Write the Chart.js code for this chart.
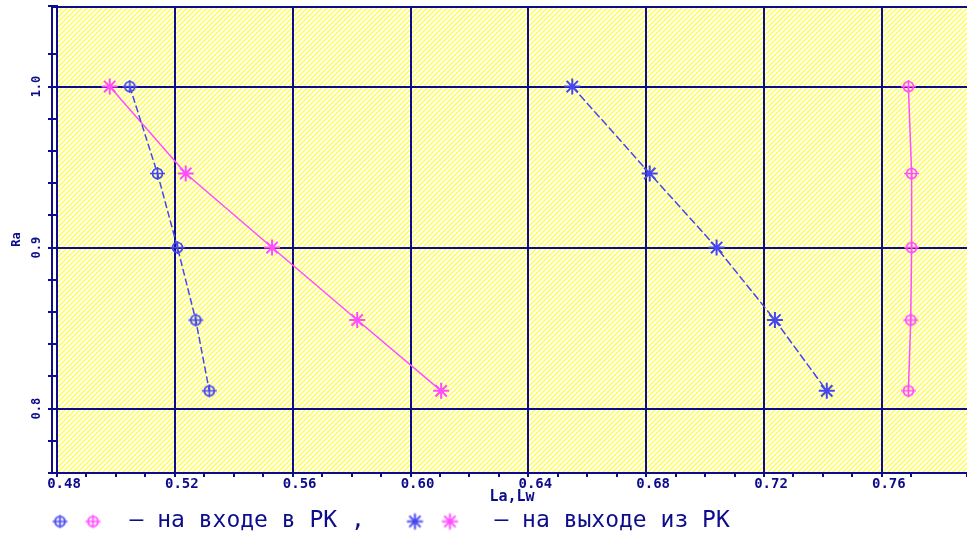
<!DOCTYPE html>
<html>
<head>
<meta charset="utf-8">
<script src="https://cdn.jsdelivr.net/npm/chart.js@4"></script>
<style>
  html, body { margin: 0; padding: 0; background: #fff; }
  #wrap { width: 967px; height: 540px; }
</style>
</head>
<body>
<div id="wrap"><canvas id="myChart"></canvas></div>
<script>
// Ra on the vertical axis, same rows for every series
const raValues = [1.0, 0.946, 0.9, 0.855, 0.811];
// La / Lw on the horizontal axis
const inletBlue = [0.5047, 0.5141, 0.5209, 0.5271, 0.5317];
const inletPink = [0.7690, 0.7701, 0.7701, 0.7698, 0.7690];
const outletBlue = [0.6549, 0.6812, 0.7039, 0.7237, 0.7413];
const outletPink = [0.4979, 0.5237, 0.5530, 0.5819, 0.6104];

const xMajor = [0.48, 0.52, 0.56, 0.60, 0.64, 0.68, 0.72, 0.76];
const yMajor = [0.8, 0.9, 1.0];
const legendTexts = ['– на входе в РК ,', '– на выходе из РК'];

const navy = '#0c0c8c';
const blue = '#4646f0';
const pink = '#ff4cff';
const mono = "'DejaVu Sans Mono', monospace";

function pairs(xs) {
  return xs.map((x, i) => ({x: x, y: raValues[i]}));
}
function isMajor(v, list) {
  return list.some(m => Math.abs(v - m) < 1e-6);
}

function crossCircle(color) {
  const c = document.createElement('canvas');
  c.width = 17; c.height = 15;
  const g = c.getContext('2d');
  g.strokeStyle = color;
  g.lineWidth = 1.7;
  g.beginPath(); g.arc(8.5, 7.5, 5, 0, 2 * Math.PI); g.stroke();
  g.beginPath();
  g.moveTo(1, 7.5); g.lineTo(16, 7.5);
  g.moveTo(8.5, 1); g.lineTo(8.5, 14);
  g.stroke();
  return c;
}
function starMark(color) {
  const c = document.createElement('canvas');
  c.width = 19; c.height = 19;
  const g = c.getContext('2d');
  g.strokeStyle = color;
  g.lineWidth = 2;
  g.beginPath();
  for (let k = 0; k < 4; k++) {
    const a = k * Math.PI / 4;
    g.moveTo(9.5 - 8 * Math.cos(a), 9.5 - 8 * Math.sin(a));
    g.lineTo(9.5 + 8 * Math.cos(a), 9.5 + 8 * Math.sin(a));
  }
  g.stroke();
  return c;
}
function twoMarks(a, b, width, pa, pb) {
  const c = document.createElement('canvas');
  c.width = width; c.height = 20;
  const g = c.getContext('2d');
  g.drawImage(a, pa - a.width / 2, 10 - a.height / 2);
  g.drawImage(b, pb - b.width / 2, 10 - b.height / 2);
  return c;
}

const inBlueMark = crossCircle(blue);
const inPinkMark = crossCircle(pink);
const legendIn = twoMarks(inBlueMark, inPinkMark, 114, 56, 89);
const legendOut = twoMarks(starMark(blue), starMark(pink), 114, 46, 81);

const hatch = document.createElement('canvas');
hatch.width = 5; hatch.height = 5;
(function () {
  const g = hatch.getContext('2d');
  g.strokeStyle = '#ffff48';
  g.lineWidth = 1.4;
  g.beginPath();
  g.moveTo(-1, 6); g.lineTo(6, -1);
  g.moveTo(-1, 1); g.lineTo(1, -1);
  g.moveTo(4, 6); g.lineTo(6, 4);
  g.stroke();
})();

const paper = {
  id: 'paper',
  beforeDraw(chart) {
    const {ctx, chartArea: a} = chart;
    ctx.save();
    ctx.fillStyle = '#ffffff';
    ctx.fillRect(a.left, a.top, a.right - a.left, a.bottom - a.top);
    ctx.fillStyle = ctx.createPattern(hatch, 'repeat');
    ctx.fillRect(a.left, a.top, a.right - a.left, a.bottom - a.top);
    ctx.restore();
  },
  beforeDatasetsDraw(chart) {
    const {ctx, chartArea: a} = chart;
    ctx.save();
    ctx.strokeStyle = navy;
    ctx.lineWidth = 2;
    ctx.beginPath();
    ctx.moveTo(a.left - 5, a.top + 1); ctx.lineTo(a.right, a.top + 1);
    ctx.moveTo(a.left - 5, a.top); ctx.lineTo(a.left - 5, a.bottom);
    ctx.stroke();
    ctx.restore();
  }
};

const data = {
  datasets: [
    {
      label: 'inlet blue',
      data: pairs(inletBlue),
      showLine: true,
      borderColor: blue,
      borderWidth: 1.5,
      borderDash: [7, 3],
      pointStyle: inBlueMark,
      pointRadius: 7
    },
    {
      label: 'inlet pink',
      data: pairs(inletPink),
      showLine: true,
      borderColor: pink,
      borderWidth: 1.5,
      pointStyle: inPinkMark,
      pointRadius: 7
    },
    {
      label: 'outlet blue',
      data: pairs(outletBlue),
      showLine: true,
      borderColor: blue,
      borderWidth: 1.5,
      borderDash: [8, 3],
      pointStyle: 'star',
      pointRadius: 8,
      pointBorderWidth: 2,
      pointBorderColor: blue
    },
    {
      label: 'outlet pink',
      data: pairs(outletPink),
      showLine: true,
      borderColor: pink,
      borderWidth: 1.5,
      pointStyle: 'star',
      pointRadius: 8,
      pointBorderWidth: 2,
      pointBorderColor: pink
    }
  ]
};

const config = {
  type: 'scatter',
  data: data,
  options: {
    responsive: true,
    maintainAspectRatio: false,
    animation: false,
    layout: { autoPadding: false, padding: { top: 6, right: 0, left: 0, bottom: -3 } },
    scales: {
      x: {
        type: 'linear',
        min: 0.48,
        max: 0.7889,
        afterFit(scale) { scale.height = 33; scale.paddingLeft = 0; scale.paddingRight = 0; },
        border: { color: navy, width: 2 },
        grid: {
          color: c => (c.tick && isMajor(c.tick.value, xMajor)) ? navy : 'rgba(0,0,0,0)',
          tickColor: navy,
          lineWidth: 2,
          tickLength: 4
        },
        ticks: {
          stepSize: 0.01,
          autoSkip: false,
          minRotation: 0,
          maxRotation: 0,
          padding: -1,
          labelOffset: 7,
          color: navy,
          font: { family: mono, size: 14, weight: 'bold' },
          callback: v => isMajor(v, xMajor) ? v.toFixed(2) : ''
        },
        title: {
          display: true,
          text: 'La,Lw',
          color: navy,
          padding: 0,
          font: { family: mono, size: 15, weight: 'bold' }
        }
      },
      y: {
        type: 'linear',
        min: 0.76,
        max: 1.05,
        afterFit(scale) { scale.width = 57; scale.paddingTop = 0; scale.paddingBottom = 0; },
        border: { color: navy, width: 2 },
        grid: {
          color: c => (c.tick && isMajor(c.tick.value, yMajor)) ? navy : 'rgba(0,0,0,0)',
          tickColor: navy,
          lineWidth: 2,
          tickLength: 9
        },
        ticks: {
          stepSize: 0.02,
          autoSkip: false,
          minRotation: 90,
          maxRotation: 90,
          crossAlign: 'center',
          padding: 0,
          color: navy,
          font: { family: mono, size: 12, weight: 'bold' },
          callback: v => isMajor(v, yMajor) ? v.toFixed(1) : ''
        },
        title: {
          display: true,
          text: 'Ra',
          color: navy,
          padding: { top: 10, bottom: 0 },
          font: { family: mono, size: 12, weight: 'bold' }
        }
      }
    },
    plugins: {
      tooltip: { enabled: false },
      legend: {
        position: 'bottom',
        align: 'start',
        labels: {
          usePointStyle: true,
          pointStyleWidth: 114,
          padding: 4,
          color: navy,
          font: { family: mono, size: 23 },
          generateLabels: () => [
            { text: legendTexts[0], pointStyle: legendIn, lineWidth: 0, strokeStyle: 'rgba(0,0,0,0)', fillStyle: 'rgba(0,0,0,0)', fontColor: navy, hidden: false },
            { text: legendTexts[1], pointStyle: legendOut, lineWidth: 0, strokeStyle: 'rgba(0,0,0,0)', fillStyle: 'rgba(0,0,0,0)', fontColor: navy, hidden: false }
          ]
        }
      }
    }
  },
  plugins: [paper]
};

const myChart = new Chart(document.getElementById('myChart'), config);
</script>
</body>
</html>
